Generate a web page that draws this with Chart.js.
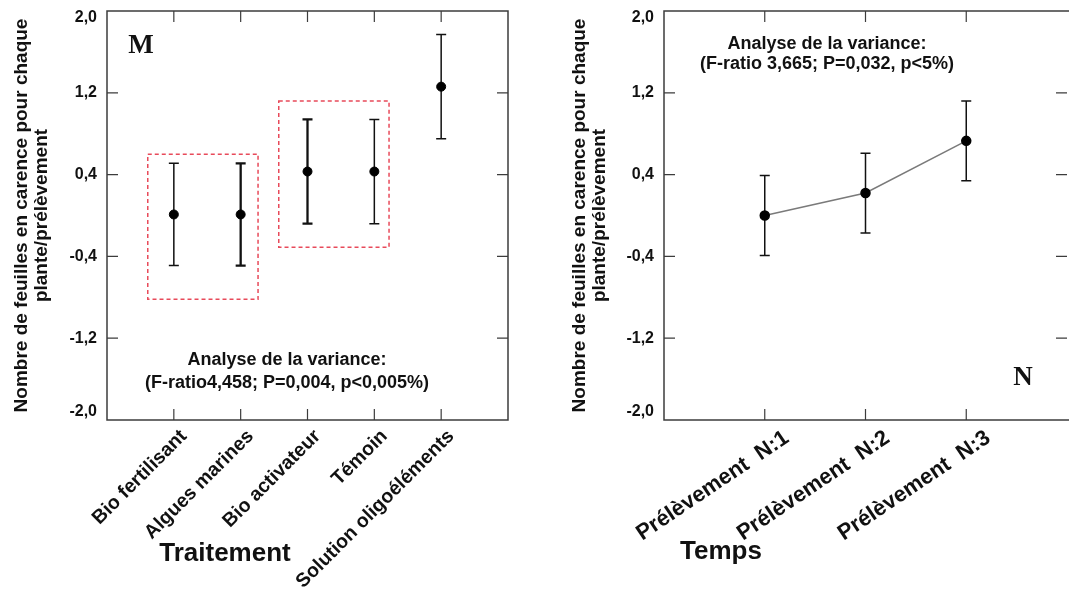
<!DOCTYPE html>
<html>
<head>
<meta charset="utf-8">
<script src="https://cdn.jsdelivr.net/npm/chart.js@4"></script>
<style>
  html, body { margin: 0; padding: 0; background: #fff; }
  #wrap { position: relative; width: 1073px; height: 590px; overflow: hidden; }
  canvas { position: absolute; top: 0; }
</style>
</head>
<body>
<div id="wrap">
  <canvas id="chartM" width="540" height="590" style="left:0"></canvas>
  <canvas id="chartN" width="533" height="590" style="left:540px"></canvas>
</div>
<script>
// données
const traitements = ["Bio fertilisant", "Algues marines", "Bio activateur", "Témoin", "Solution oligoéléments"];
const traitMoyennes = [0.01, 0.01, 0.43, 0.43, 1.26];
const traitErreurs = [0.50, 0.50, 0.51, 0.51, 0.51];

const prelevements = ["Prélèvement  N:1", "Prélèvement  N:2", "Prélèvement  N:3"];
const tempsMoyennes = [0.0, 0.22, 0.73];
const tempsErreurs = [0.39, 0.39, 0.39];

const yTicks = [-2.0, -1.2, -0.4, 0.4, 1.2, 2.0];
const yTitre = ["Nombre de feuilles en carence pour chaque", "plante/prélèvement"];

// groupes homogènes (cadres rouges pointillés), en unités des axes
const groupes = [
  { x0: 0.61, x1: 2.26, y0: -0.82, y1: 0.60 },
  { x0: 2.57, x1: 4.22, y0: -0.31, y1: 1.12 }
];

const FONT = "'Liberation Sans', Arial, sans-serif";
const SERIF = "'Liberation Serif', 'Times New Roman', serif";

function fmt(v) {
  return v.toFixed(1).replace(".", ",");
}

// cadre, graduations intérieures, barres d'erreur et textes
const cadrePlugin = {
  id: "cadre",
  beforeDatasetsDraw(chart, args, opts) {
    const { ctx, chartArea: a, scales: { x, y } } = chart;
    const tl = 11;
    ctx.save();
    ctx.strokeStyle = "#3c3c3c";
    ctx.lineWidth = 1.5;
    ctx.beginPath();
    if (opts.ouvert) {
      ctx.moveTo(a.right + 2, a.top);
      ctx.lineTo(a.left, a.top);
      ctx.lineTo(a.left, a.bottom);
      ctx.lineTo(a.right + 2, a.bottom);
    } else {
      ctx.rect(a.left, a.top, a.right - a.left, a.bottom - a.top);
    }
    ctx.stroke();

    ctx.lineWidth = 1.2;
    ctx.beginPath();
    x.ticks.forEach(t => {
      const px = x.getPixelForValue(t.value);
      ctx.moveTo(px, a.bottom); ctx.lineTo(px, a.bottom - tl);
      ctx.moveTo(px, a.top); ctx.lineTo(px, a.top + tl);
    });
    y.ticks.forEach(t => {
      const py = y.getPixelForValue(t.value);
      if (t.value === yTicks[0] || t.value === yTicks[yTicks.length - 1]) return;
      ctx.moveTo(a.left, py); ctx.lineTo(a.left + tl, py);
      ctx.moveTo(a.right, py); ctx.lineTo(a.right - tl, py);
    });
    ctx.stroke();

    // cadres des groupes
    if (opts.groupes) {
      ctx.strokeStyle = "#e84a5a";
      ctx.lineWidth = 1.5;
      ctx.setLineDash([4, 3]);
      opts.groupes.forEach(g => {
        const x0 = x.getPixelForValue(g.x0), x1 = x.getPixelForValue(g.x1);
        const y0 = y.getPixelForValue(g.y0), y1 = y.getPixelForValue(g.y1);
        ctx.strokeRect(x0, y1, x1 - x0, y0 - y1);
      });
      ctx.setLineDash([]);
    }

    // barres d'erreur
    ctx.strokeStyle = "#111";
    opts.moyennes.forEach((m, i) => {
      const px = x.getPixelForValue(i + 1);
      const top = y.getPixelForValue(m + opts.erreurs[i]);
      const bot = y.getPixelForValue(m - opts.erreurs[i]);
      ctx.lineWidth = opts.epaisseurs ? opts.epaisseurs[i] : 1.5;
      ctx.beginPath();
      ctx.moveTo(px, top); ctx.lineTo(px, bot);
      ctx.moveTo(px - 5, top); ctx.lineTo(px + 5, top);
      ctx.moveTo(px - 5, bot); ctx.lineTo(px + 5, bot);
      ctx.stroke();
    });
    ctx.restore();
  },
  afterDraw(chart, args, opts) {
    const { ctx, chartArea: a, scales: { y } } = chart;
    ctx.save();
    ctx.fillStyle = "#111";

    // étiquettes de l'axe Y, ramenées à l'intérieur du cadre aux extrémités
    ctx.font = "bold 16px " + FONT;
    ctx.textAlign = "right";
    ctx.textBaseline = "middle";
    y.ticks.forEach(t => {
      let py = y.getPixelForValue(t.value);
      py = Math.min(Math.max(py, a.top + 7), a.bottom - 8);
      ctx.fillText(fmt(t.value), a.left - 10, py);
    });

    ctx.textAlign = "center";
    (opts.textes || []).forEach(t => {
      ctx.font = t.font;
      ctx.fillText(t.texte, t.x, t.y);
    });
    ctx.restore();
  }
};

function yScale(largeur, padTitre) {
  return {
    min: -2, max: 2,
    afterBuildTicks: s => { s.ticks = yTicks.map(v => ({ value: v })); },
    afterFit: s => { s.width = largeur; },
    grid: { display: false, drawTicks: false },
    border: { display: false },
    ticks: { display: false },
    title: {
      display: true,
      text: yTitre,
      font: { family: FONT, size: 19, weight: "bold", lineHeight: 1.05 },
      color: "#111",
      padding: { top: padTitre, bottom: 0 }
    }
  };
}

function xScale(labels, max, rotation, decalage, taille) {
  return {
    type: "linear",
    min: 0, max: max,
    afterBuildTicks: s => { s.ticks = labels.map((_, i) => ({ value: i + 1 })); },
    afterFit: s => { s.height = 170; },
    grid: { display: false, drawTicks: false },
    border: { display: false },
    ticks: {
      callback: v => labels[v - 1],
      autoSkip: false,
      minRotation: rotation,
      maxRotation: rotation,
      labelOffset: decalage,
      padding: 5,
      font: { family: FONT, size: taille, weight: "bold" },
      color: "#111"
    }
  };
}

// M : traitement
new Chart(document.getElementById("chartM"), {
  type: "scatter",
  data: {
    datasets: [{
      data: traitMoyennes.map((v, i) => ({ x: i + 1, y: v })),
      pointRadius: 4.5,
      pointBackgroundColor: "#000",
      pointBorderColor: "#000",
      showLine: false
    }]
  },
  options: {
    responsive: false,
    animation: false,
    layout: { padding: { top: 11, right: 32, bottom: 0, left: 0 } },
    plugins: {
      legend: { display: false },
      tooltip: { enabled: false },
      cadre: {
        moyennes: traitMoyennes,
        erreurs: traitErreurs,
        epaisseurs: [1.5, 2.3, 2.3, 1.5, 1.5],
        groupes: groupes,
        textes: [
          { texte: "M", x: 141, y: 46, font: "bold 27px " + SERIF },
          { texte: "Analyse de la variance:", x: 287, y: 360, font: "bold 18px " + FONT },
          { texte: "(F-ratio4,458; P=0,004, p<0,005%)", x: 287, y: 383, font: "bold 18px " + FONT },
          { texte: "Traitement", x: 225, y: 554, font: "bold 26px " + FONT }
        ]
      }
    },
    scales: {
      x: xScale(traitements, 6, 45, 10, 19.5),
      y: yScale(107, 12)
    }
  },
  plugins: [cadrePlugin]
});

// N : temps
new Chart(document.getElementById("chartN"), {
  type: "scatter",
  data: {
    datasets: [{
      data: tempsMoyennes.map((v, i) => ({ x: i + 1, y: v })),
      pointRadius: 4.5,
      pointBackgroundColor: "#000",
      pointBorderColor: "#000",
      borderColor: "#7a7a7a",
      borderWidth: 1.5,
      showLine: true
    }]
  },
  options: {
    responsive: false,
    animation: false,
    layout: { padding: { top: 11, right: 0, bottom: 0, left: 0 } },
    plugins: {
      legend: { display: false },
      tooltip: { enabled: false },
      cadre: {
        ouvert: true,
        moyennes: tempsMoyennes,
        erreurs: tempsErreurs,
        textes: [
          { texte: "Analyse de la variance:", x: 287, y: 44, font: "bold 18px " + FONT },
          { texte: "(F-ratio 3,665; P=0,032, p<5%)", x: 287, y: 64, font: "bold 18px " + FONT },
          { texte: "N", x: 483, y: 378, font: "bold 27px " + SERIF },
          { texte: "Temps", x: 181, y: 552, font: "bold 26px " + FONT }
        ]
      }
    },
    scales: {
      x: xScale(prelevements, 4, 34, 22, 22),
      y: yScale(124, 30)
    }
  },
  plugins: [cadrePlugin]
});
</script>
</body>
</html>
